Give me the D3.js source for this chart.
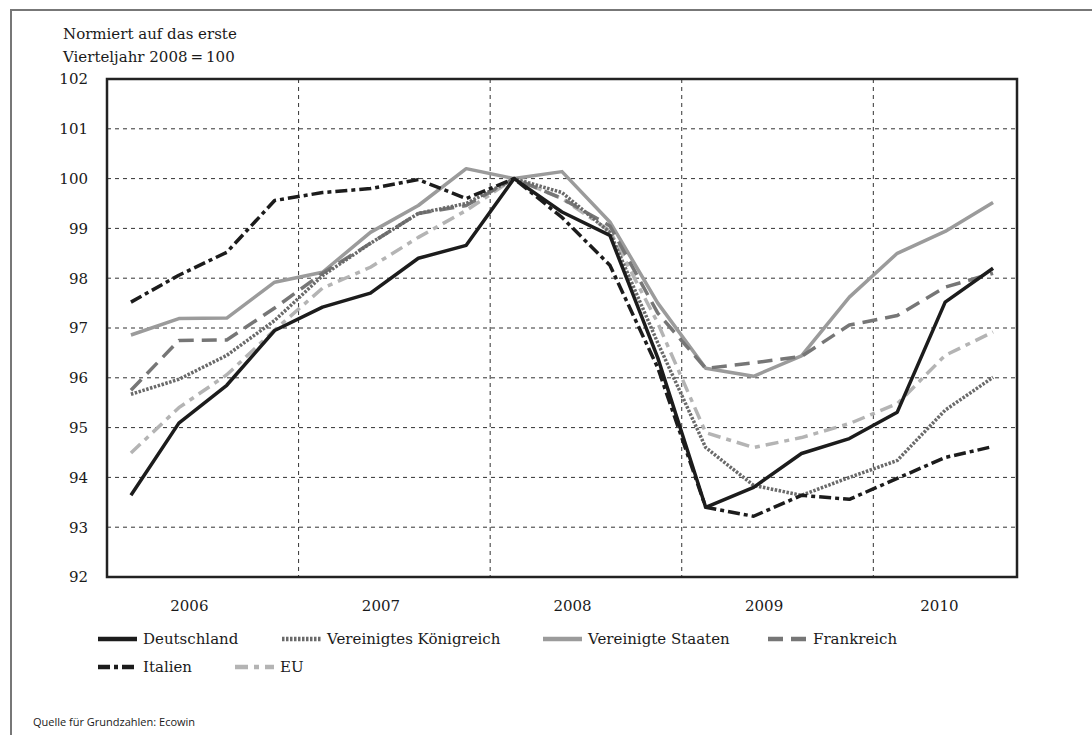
<!DOCTYPE html>
<html>
<head>
<meta charset="utf-8">
<script src="https://cdn.jsdelivr.net/npm/d3@7/dist/d3.min.js"></script>
<style>
  html, body { margin: 0; padding: 0; background: #fff; overflow: hidden; }
  #result { width: 1092px; height: 735px; }
  svg { display: block; }
  text { font-family: 'DejaVu Serif', 'Liberation Serif', serif; fill: #1a1a1a; }
</style>
</head>
<body>
<div id="result"></div>
<script>
// the quarters along the x axis, 2006 Q1 up to 2010 Q3
const years = [2006, 2007, 2008, 2009, 2010];
const quartersPerYear = [4, 4, 4, 4, 3];
const quarters = [];
years.forEach((y, i) => {
    for (let q = 1; q <= quartersPerYear[i]; q++) quarters.push(`${y}-Q${q}`);
});

const yTicks = [92, 93, 94, 95, 96, 97, 98, 99, 100, 101, 102];

// values, first quarter 2008 = 100
const deutschland = [93.64, 95.09, 95.85, 96.95, 97.42, 97.70, 98.40, 98.66, 100, 99.33, 98.86, 96.40, 93.40, 93.80, 94.48, 94.78, 95.31, 97.52, 98.20];
const koenigreich = [95.67, 95.97, 96.45, 97.15, 98.05, 98.70, 99.30, 99.50, 100, 99.72, 98.92, 96.70, 94.60, 93.84, 93.64, 94.00, 94.34, 95.35, 96.01];
const staaten     = [96.86, 97.19, 97.20, 97.92, 98.12, 98.92, 99.46, 100.20, 100, 100.14, 99.13, 97.50, 96.19, 96.03, 96.44, 97.62, 98.50, 98.94, 99.52];
const frankreich  = [95.75, 96.75, 96.76, 97.40, 98.10, 98.70, 99.30, 99.46, 100, 99.60, 99.05, 97.30, 96.19, 96.30, 96.43, 97.06, 97.25, 97.82, 98.10];
const italien     = [97.52, 98.06, 98.52, 99.56, 99.72, 99.80, 99.98, 99.60, 100, 99.22, 98.26, 96.20, 93.40, 93.22, 93.64, 93.56, 93.98, 94.40, 94.62];
const eu          = [94.49, 95.40, 96.06, 96.96, 97.80, 98.22, 98.82, 99.36, 100, 99.60, 98.95, 97.10, 94.90, 94.60, 94.80, 95.08, 95.48, 96.45, 96.92];

// how each series is drawn (legend order)
const series = [
    { name: 'Deutschland', values: deutschland, color: '#1c1c1c', width: 3.5, dash: null },
    { name: 'Vereinigtes Königreich', values: koenigreich, color: '#6a6a6a', width: 3.5, dash: '2.5,1.5' },
    { name: 'Vereinigte Staaten', values: staaten, color: '#9b9b9b', width: 3.5, dash: null },
    { name: 'Frankreich', values: frankreich, color: '#767676', width: 3.5, dash: '15,8' },
    { name: 'Italien', values: italien, color: '#1c1c1c', width: 3.5, dash: '12,4,4,4' },
    { name: 'EU', values: eu, color: '#b4b4b4', width: 3.5, dash: '13,6,5,6' }
];
// drawing order so the dark lines end up on top
const drawOrder = ['Vereinigte Staaten', 'EU', 'Frankreich', 'Vereinigtes Königreich', 'Deutschland', 'Italien'];

const width = 1092;
const height = 735;
const margin = { top: 79, bottom: 158, left: 107, right: 75 };
const innerWidth = width - margin.left - margin.right;
const innerHeight = height - margin.top - margin.bottom;
const fontSize = '15px';

const svg = d3.select('#result')
    .append('svg')
    .attr('width', width)
    .attr('height', height);

// outer frame of the figure (runs off the page on the right and bottom)
svg.append('path')
    .attr('d', `M11,${height + 5}V10H${width + 5}`)
    .attr('fill', 'none')
    .attr('stroke', '#777')
    .attr('stroke-width', 2);

// unit title
svg.append('text')
    .attr('x', 63).attr('y', 39)
    .style('font-size', fontSize)
    .text('Normiert auf das erste');
svg.append('text')
    .attr('x', 63).attr('y', 62)
    .style('font-size', fontSize)
    .text('Vierteljahr 2008\u2009=\u2009100');

const g = svg.append('g')
    .attr('transform', `translate(${margin.left}, ${margin.top})`);

const xScale = d3.scaleBand()
    .domain(quarters)
    .range([0, innerWidth])
    .padding(0);
const step = xScale.bandwidth();
const xMid = d => xScale(d) + step / 2;

const yScale = d3.scaleLinear()
    .domain([92, 102])
    .range([innerHeight, 0]);

// horizontal grid lines
g.append('g')
    .selectAll('line')
    .data(yTicks.slice(1, -1))
    .enter()
    .append('line')
        .attr('x1', 0)
        .attr('x2', innerWidth)
        .attr('y1', d => yScale(d))
        .attr('y2', d => yScale(d))
        .attr('stroke', '#333')
        .attr('stroke-width', 1)
        .attr('stroke-dasharray', '4,4');

// vertical grid lines at the start of each year
g.append('g')
    .selectAll('line')
    .data(years.slice(1))
    .enter()
    .append('line')
        .attr('x1', d => xScale(`${d}-Q1`))
        .attr('x2', d => xScale(`${d}-Q1`))
        .attr('y1', 0)
        .attr('y2', innerHeight)
        .attr('stroke', '#333')
        .attr('stroke-width', 1)
        .attr('stroke-dasharray', '4,4');

// y axis labels
g.append('g')
    .selectAll('text')
    .data(yTicks)
    .enter()
    .append('text')
        .attr('x', -19)
        .attr('y', d => yScale(d))
        .attr('dy', '0.36em')
        .attr('text-anchor', 'end')
        .style('font-size', fontSize)
        .text(d => d);

// year labels under the plot
g.append('g')
    .selectAll('text')
    .data(years)
    .enter()
    .append('text')
        .attr('x', (d, i) => xScale(`${d}-Q1`) + Math.min(1.72, quartersPerYear[i] / 2 - 0.12) * step)
        .attr('y', innerHeight + 34)
        .attr('text-anchor', 'middle')
        .style('font-size', fontSize)
        .text(d => d);

// the series lines
const line = d3.line()
    .x((d, i) => xMid(quarters[i]))
    .y(d => yScale(d));

const linesG = g.append('g');
for (const name of drawOrder) {
    const s = series.find(d => d.name === name);
    linesG.append('path')
        .datum(s.values)
        .attr('fill', 'none')
        .attr('stroke', s.color)
        .attr('stroke-width', s.width)
        .attr('stroke-dasharray', s.dash)
        .attr('stroke-linejoin', 'round')
        .attr('d', line);
}

// plot border
g.append('rect')
    .attr('width', innerWidth)
    .attr('height', innerHeight)
    .attr('fill', 'none')
    .attr('stroke', '#222')
    .attr('stroke-width', 2.5);

// legend, two rows
const legendPos = [
    { x: 98, y: 639 }, { x: 282, y: 639 }, { x: 543, y: 639 }, { x: 768, y: 639 },
    { x: 98, y: 667 }, { x: 235, y: 667 }
];
const legend = svg.append('g')
    .selectAll('g')
    .data(series)
    .enter()
    .append('g')
        .attr('transform', (d, i) => `translate(${legendPos[i].x}, ${legendPos[i].y})`);

legend.append('line')
    .attr('x1', 0)
    .attr('x2', 39)
    .attr('stroke', d => d.color)
    .attr('stroke-width', 4.5)
    .attr('stroke-dasharray', d => d.dash);

legend.append('text')
    .attr('x', 45)
    .attr('dy', '0.36em')
    .style('font-size', fontSize)
    .text(d => d.name);

// source note
svg.append('text')
    .attr('x', 33)
    .attr('y', 726)
    .style('font-family', "'Open Sans', sans-serif")
    .style('font-size', '11px')
    .text('Quelle für Grundzahlen: Ecowin');
</script>
</body>
</html>
